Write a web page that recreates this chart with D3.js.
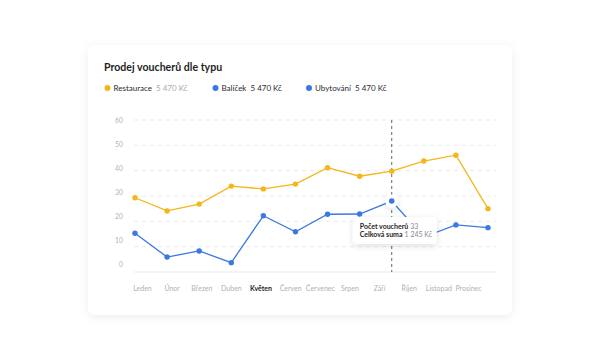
<!DOCTYPE html>
<html><head><meta charset="utf-8">
<script src="https://cdn.jsdelivr.net/npm/d3@7"></script>
<style>
html,body{margin:0;padding:0;background:#fff;}
svg{display:block;font-family:Lato, "Noto Sans", sans-serif;}
</style></head>
<body>
<svg id="c" width="600" height="360"></svg>
<script>
const months = ["Leden","Únor","Březen","Duben","Květen","Červen","Červenec","Srpen","Září","Říjen","Listopad","Prosinec"];
const restaurace = [29.3,24.1,26.8,33.9,32.8,34.7,41.2,37.8,39.8,43.8,46.1,25.0];
const balicek = [15.3,5.9,8.3,3.7,22.2,15.9,22.8,22.9,28.0,13.8,18.6,17.5];
const yTicks = [0,10,20,30,40,50,60];
const legendItems = ["Restaurace","Balíček","Ubytování"];
const legendValues = ["5 470 Kč","5 470 Kč","5 470 Kč"];
const activeMonth = "Září";
const boldMonth = "Květen";
const tooltipCount = "33";
const tooltipSum = "1 245 Kč";

const YEL = "#F4B619", BLUE = "#3B78E4";
const svg = d3.select("#c");
const defs = svg.append("defs");
const f = defs.append("filter").attr("id","sh").attr("x","-20%").attr("y","-20%").attr("width","140%").attr("height","150%");
f.append("feDropShadow").attr("dx",0).attr("dy",2).attr("stdDeviation",5).attr("flood-color","#000").attr("flood-opacity",0.07);
const f2 = defs.append("filter").attr("id","sh2").attr("x","-30%").attr("y","-40%").attr("width","160%").attr("height","190%");
f2.append("feDropShadow").attr("dx",0).attr("dy",2).attr("stdDeviation",3).attr("flood-color","#000").attr("flood-opacity",0.12);

// card
svg.append("rect").attr("x",88).attr("y",45).attr("width",424).attr("height",270).attr("rx",8)
  .attr("fill","#fff").attr("filter","url(#sh)");

svg.append("text").attr("x",104).attr("y",71).attr("font-size",10.6).attr("font-weight",700)
  .attr("fill","#1f1f24").text("Prodej voucherů dle typu");

// legend
const legX = [107.5, 215.5, 309];
const legColors = [YEL, BLUE, BLUE];
const valColors = ["#a8a8ae","#2a2a30","#2a2a30"];
legendItems.forEach((name,i)=>{
  const g = svg.append("g").attr("transform",`translate(${legX[i]},88)`);
  g.append("circle").attr("r",3).attr("fill",legColors[i]);
  const t = g.append("text").attr("x",6).attr("y",2.8).attr("font-size",8).attr("fill","#2a2a30");
  t.append("tspan").text(name);
  t.append("tspan").attr("dx",4).attr("fill",valColors[i]).text(legendValues[i]);
});

// scales
const x = d3.scalePoint().domain(months).range([135,488]);
const xLab = d3.scalePoint().domain(months).range([142,468]);
const y = d3.scaleLinear().domain([0,60]).range([272,120]);
const yLab = d3.scaleLinear().domain([0,60]).range([264,120]);

// grid
svg.append("g").selectAll("line").data(yTicks.filter(d=>d>0)).join("line")
  .attr("x1",134).attr("x2",496).attr("y1",d=>y(d)).attr("y2",d=>y(d))
  .attr("stroke","#e6e6ea").attr("stroke-width",0.8).attr("stroke-dasharray","4,4");
svg.append("line").attr("x1",134).attr("x2",496).attr("y1",y(0)).attr("y2",y(0))
  .attr("stroke","#e8e8ec").attr("stroke-width",1);

// y axis labels
const ya = svg.append("g").attr("transform","translate(123,0)")
  .call(d3.axisLeft(yLab).tickValues(yTicks).tickSize(0).tickPadding(0));
ya.select(".domain").remove();
ya.selectAll("text").attr("font-size",7).attr("fill","#b4b4ba").attr("font-family","Lato, sans-serif");

// x axis labels
const xa = svg.append("g").attr("transform","translate(0,286)")
  .call(d3.axisBottom(xLab).tickSize(0).tickPadding(0));
xa.select(".domain").remove();
xa.selectAll("text").attr("font-size",7).attr("font-family","Lato, sans-serif")
  .attr("font-weight",d=>d===boldMonth?700:400).attr("fill",d=>d===boldMonth?"#1f1f24":"#b0b0b6");

// hover line
svg.append("line").attr("x1",x(activeMonth)).attr("x2",x(activeMonth)).attr("y1",120).attr("y2",272)
  .attr("stroke","#555").attr("stroke-width",0.9).attr("stroke-dasharray","3,3");

const line = d3.line().x((d,i)=>x(months[i])).y(d=>y(d));
[[restaurace,YEL],[balicek,BLUE]].forEach(([data,col])=>{
  svg.append("path").attr("d",line(data)).attr("fill","none").attr("stroke",col).attr("stroke-width",1.3);
  svg.append("g").selectAll("circle").data(data).join("circle")
    .attr("cx",(d,i)=>x(months[i])).attr("cy",d=>y(d)).attr("r",2.7).attr("fill",col);
});

// active point halo
const ai = months.indexOf(activeMonth);
svg.append("circle").attr("cx",x(activeMonth)).attr("cy",y(balicek[ai])).attr("r",6.5)
  .attr("fill","#fff").attr("filter","url(#sh2)");
svg.append("circle").attr("cx",x(activeMonth)).attr("cy",y(balicek[ai])).attr("r",2.8).attr("fill",BLUE);

// tooltip
const tt = svg.append("g").attr("transform",`translate(${x(activeMonth)-39},217)`);
tt.append("rect").attr("width",84).attr("height",27).attr("rx",4).attr("fill","#fff").attr("filter","url(#sh2)");
const t1 = tt.append("text").attr("x",7).attr("y",11.5).attr("font-size",7).attr("fill","#1f1f24");
t1.append("tspan").attr("font-weight",700).text("Počet voucherů");
t1.append("tspan").attr("dx",2).attr("fill","#8a8a90").text(tooltipCount);
const t2 = tt.append("text").attr("x",7).attr("y",20).attr("font-size",7).attr("fill","#1f1f24");
t2.append("tspan").attr("font-weight",700).text("Celková suma");
t2.append("tspan").attr("dx",2).attr("fill","#8a8a90").text(tooltipSum);
</script>
</body></html>
